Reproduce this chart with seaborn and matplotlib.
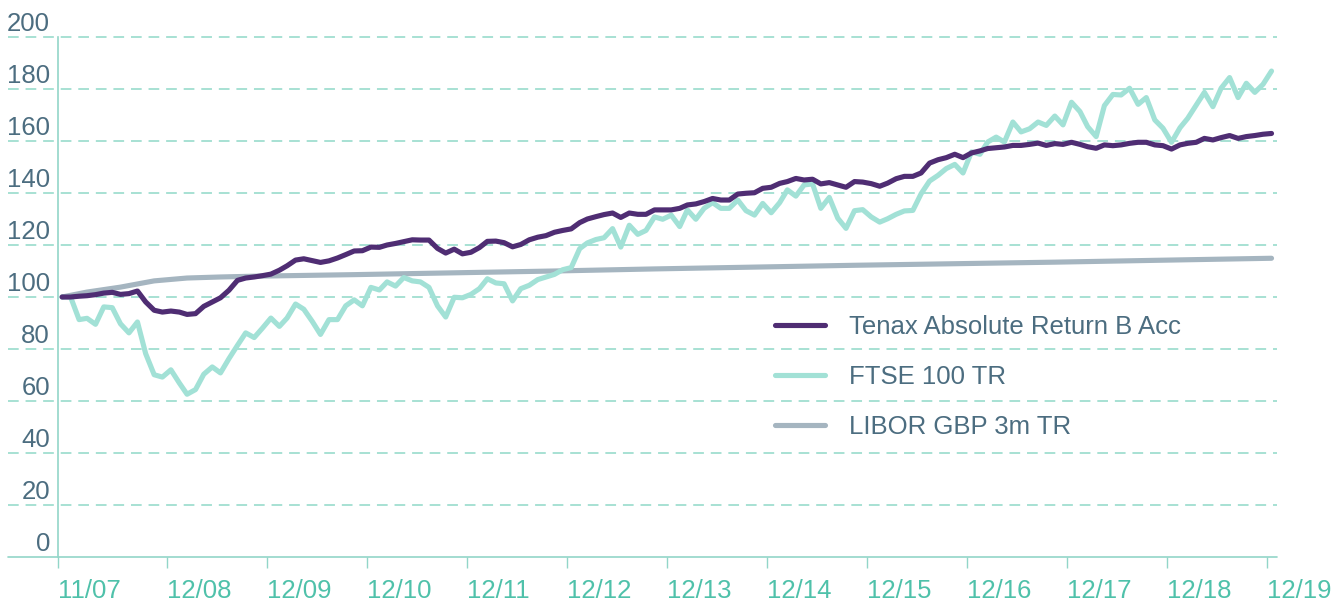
import pandas as pd
import seaborn as sns
import matplotlib.pyplot as plt
from matplotlib.transforms import offset_copy

# series values, monthly from 30/11/2007 to 31/12/2019
tenax = [100, 100, 100.3, 100.5, 100.9, 101.5, 101.8, 101, 101.3, 102.3, 98.1, 94.9,
         94.2, 94.6, 94.2, 93.3, 93.6, 96.4, 98.1, 99.7, 102.6, 106.4, 107.3, 107.7,
         108.2, 108.8, 110.3, 112, 114.2, 114.7, 114, 113.3, 113.9, 115, 116.3, 117.7,
         117.8, 119.2, 119.1, 120, 120.6, 121.3, 122, 121.9, 121.9, 118.7, 116.9, 118.4,
         116.6, 117.2, 119.0, 121.4, 121.5, 120.9, 119.3, 120.2, 122, 123, 123.6, 124.9,
         125.6, 126.2, 128.6, 130, 130.9, 131.7, 132.3, 130.6, 132.3, 131.8, 131.8, 133.5,
         133.5, 133.5, 134.1, 135.4, 135.8, 136.7, 137.9, 137.3, 137.3, 139.6, 139.9, 140.1,
         141.8, 142.2, 143.7, 144.4, 145.6, 145, 145.3, 143.5, 144, 143.1, 142.2, 144.4,
         144.2, 143.6, 142.6, 143.8, 145.5, 146.4, 146.4, 147.7, 151.5, 152.8, 153.6, 154.9,
         153.6, 155.4, 156.2, 157.1, 157.4, 157.7, 158.3, 158.3, 158.7, 159.2, 158.3,
         159, 158.7, 159.5, 158.7, 157.8, 157.2, 158.5, 158.2, 158.5, 159.1, 159.5, 159.5,
         158.5, 158.2, 156.9, 158.5, 159.1, 159.5, 161, 160.4, 161.3, 162.1, 161, 161.7,
         162.1, 162.6, 162.9]

ftse = [100, 100, 91.3, 91.8, 89.5, 96.2, 95.9, 89.7, 86.2, 90.4, 78.2, 70.1,
        69.2, 72, 66.9, 62.6, 64.4, 70.3, 73.1, 70.8, 76.3, 81.4, 86.2, 84.4,
        88, 91.9, 88.7, 91.9, 97.3, 95.3, 90.6, 85.6, 91.3, 91.3, 96.6, 98.9,
        96.6, 103.7, 102.7, 105.8, 104.2, 107.5, 106.2, 105.8, 103.7, 96.6, 92.3, 99.9,
        99.7, 101, 103.2, 107, 105.4, 105.1, 98.5, 103.2, 104.5, 106.7, 107.7, 108.7,
        110.5, 111.3, 118.6, 120.8, 122.1, 122.8, 126.3, 119.2, 127.6, 124.1, 125.6, 130.8,
        129.9, 131.5, 127.1, 133.5, 129.9, 134.1, 136.3, 134.1, 134.1, 137.3, 133.2, 131.5,
        136, 132.4, 136.3, 141.2, 138.8, 143.1, 143.5, 134.1, 138.3, 130.3, 126.4, 133.2,
        133.6, 130.8, 128.8, 130.1, 131.8, 133.1, 133.3, 139.7, 144.6, 146.8, 149.4, 151,
        147.7, 155.8, 154.9, 159.6, 161.5, 159.6, 167.3, 163.5, 164.7, 167.3, 166,
        169.6, 166.2, 174.9, 171.3, 165.5, 161.7, 173.6, 177.9, 177.7, 180.3, 174.1, 176.7,
        168.1, 164.9, 159.5, 165.1, 168.7, 173.8, 178.7, 173.2, 180.3, 184.4, 176.7, 182.2,
        178.7, 181.8, 186.9]

# LIBOR is a smooth curve, read at fewer dates
libor_dates = ['2007-11-30', '2008-02-29', '2008-06-30', '2008-10-31', '2009-02-28',
               '2009-06-30', '2009-10-31', '2010-10-31', '2011-10-31', '2012-10-31',
               '2013-10-31', '2014-10-31', '2015-10-31', '2016-10-31', '2017-10-31',
               '2018-10-31', '2019-12-31']
libor = [100, 101.9, 103.8, 106.2, 107.3, 107.7, 108.0, 108.6, 109.3, 110.0,
         110.8, 111.5, 112.2, 112.8, 113.4, 114.1, 114.9]

tick_labels = ['11/07', '12/08', '12/09', '12/10', '12/11', '12/12', '12/13',
               '12/14', '12/15', '12/16', '12/17', '12/18', '12/19']
y_ticks = [0, 20, 40, 60, 80, 100, 120, 140, 160, 180, 200]

dates = pd.date_range('2007-11-30', periods=len(tenax), freq='ME')
df = pd.DataFrame({'date': dates, 'tenax': tenax, 'ftse': ftse})
df_libor = pd.DataFrame({'date': pd.to_datetime(libor_dates), 'libor': libor})
tick_dates = [pd.Timestamp(2000 + int(t[3:]), int(t[:2]), 15) for t in tick_labels]

PURPLE = '#4f2d73'
TEAL_LINE = '#a2e1d6'
GREY = '#a5b5c0'
GRID = '#8fd8c8'
AXIS = '#92d6c8'
YTXT = '#4c6d80'
XTXT = '#4fc1aa'
FS = 18.5

sns.set_style('white')
plt.rcParams['font.family'] = ['Liberation Sans', 'DejaVu Sans']

fig = plt.figure(figsize=(13.44, 6.01), dpi=100)
ax = fig.add_axes([58 / 1344, 1 - 557 / 601, (1277 - 58) / 1344, 520 / 601])

lw = 3.7
sns.lineplot(data=df_libor, x='date', y='libor', ax=ax, color=GREY, lw=lw,
             label='LIBOR GBP 3m TR', zorder=3)
sns.lineplot(data=df, x='date', y='ftse', ax=ax, color=TEAL_LINE, lw=lw,
             label='FTSE 100 TR', zorder=4)
sns.lineplot(data=df, x='date', y='tenax', ax=ax, color=PURPLE, lw=lw,
             label='Tenax Absolute Return B Acc', zorder=5)

ax.set_xlim(tick_dates[0], tick_dates[-1] + pd.Timedelta(days=36))
ax.set_ylim(0, 200)
ax.set_xlabel('')
ax.set_ylabel('')

# gridlines reach out to the left past the axis
ext = -50 / 1219
for v in y_ticks[1:]:
    ax.axhline(v, xmin=ext, xmax=1, clip_on=False, color=GRID, lw=1.1,
               ls=(0, (7, 4.5)), zorder=1)
ax.axhline(0, xmin=ext, xmax=1, clip_on=False, color=AXIS, lw=1.2, zorder=2)

# y labels sit above their gridline
tr = offset_copy(ax.get_yaxis_transform(), fig=fig, x=-8, y=6, units='dots')
for v in y_ticks:
    ax.text(0, v, str(v), transform=tr, ha='right', va='baseline',
            fontsize=FS, color=YTXT)
ax.set_yticks([])

ax.set_xticks(tick_dates)
ax.set_xticklabels(tick_labels, ha='left')
ax.tick_params(axis='x', length=8, width=1, color=AXIS, pad=8,
               labelsize=FS, labelcolor=XTXT, bottom=True)

for s in ['top', 'right']:
    ax.spines[s].set_visible(False)
ax.spines['bottom'].set_visible(False)
ax.spines['left'].set_color(AXIS)
ax.spines['left'].set_linewidth(1.2)

h, l = ax.get_legend_handles_labels()
order = [2, 1, 0]
leg = ax.legend([h[i] for i in order], [l[i] for i in order],
                loc='upper left', bbox_to_anchor=(0.588, 0.465), frameon=False,
                fontsize=FS, handlelength=1.95, handletextpad=0.95,
                labelspacing=1.0, borderpad=0, borderaxespad=0)
for t in leg.get_texts():
    t.set_color(YTXT)

plt.savefig('out.png', dpi=100)
